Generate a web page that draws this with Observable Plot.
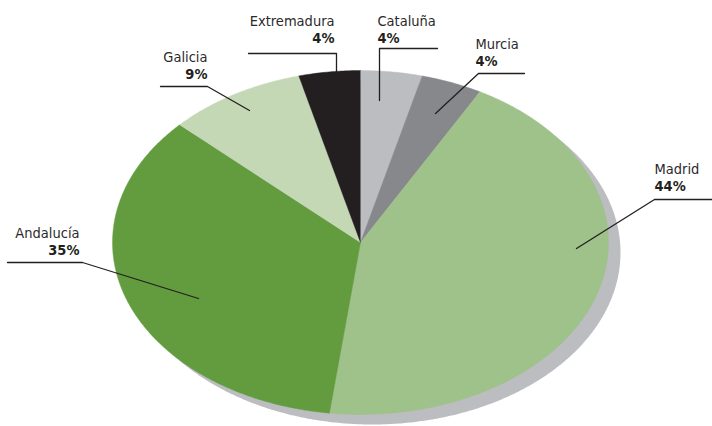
<!DOCTYPE html>
<html>
<head>
<meta charset="utf-8">
<script src="https://cdn.jsdelivr.net/npm/d3@7"></script>
<script src="https://cdn.jsdelivr.net/npm/@observablehq/plot@0.6"></script>
<style>
  html, body { margin: 0; padding: 0; background: #fff; }
  svg { display: block; }
</style>
</head>
<body>
<div id="chart"></div>
<script>
// ---- data ----
const regions = ["Cataluña", "Murcia", "Madrid", "Andalucía", "Galicia", "Extremadura"];
const shares  = [4, 4, 44, 35, 9, 4];
const colors  = ["#bcbdc0", "#87888b", "#9fc18a", "#629c3e", "#c4d8b6", "#231f20"];

// ---- layout (pixel positions of labels and leader lines) ----
const W = 712, H = 426;
const CX = 360, CY = 242, RX = 248, RY = 172;
const toX = px => (px - CX) / RX;
const toY = py => (CY - py) / RY;
const labelLayout = {
  "Extremadura": {anchor: "end",   x: 334, y1: 25,  y2: 42,  path: [[248, 53], [336, 53], [336, 74]]},
  "Cataluña":    {anchor: "start", x: 377, y1: 25,  y2: 42,  path: [[437, 48], [379, 48], [379, 100]]},
  "Murcia":      {anchor: "start", x: 475, y1: 48,  y2: 65,  path: [[524, 73], [478, 73], [435, 113]]},
  "Madrid":      {anchor: "start", x: 654, y1: 173, y2: 190, path: [[712, 199], [654, 199], [576, 248]]},
  "Andalucía":   {anchor: "end",   x: 79,  y1: 237, y2: 254, path: [[7, 262], [82, 262], [198, 298]]},
  "Galicia":     {anchor: "end",   x: 207, y1: 61,  y2: 78,  path: [[160, 86], [207, 86], [249, 110]]}
};

// ---- build slice polygons (elliptical pie, clockwise from 12 o'clock) ----
const total = d3.sum(shares);
const slices = [];
let acc = 0;
regions.forEach((name, i) => {
  const a0 = acc / total * 2 * Math.PI;
  acc += shares[i];
  const a1 = acc / total * 2 * Math.PI;
  slices.push({name, x: 0, y: 0});
  const n = Math.max(4, Math.ceil((a1 - a0) / (Math.PI / 360)));
  for (let k = 0; k <= n; k++) {
    const a = a0 + (a1 - a0) * k / n;
    slices.push({name, x: Math.sin(a), y: Math.cos(a)});
  }
});
const ellipse = d3.range(0, 721).map(k => {
  const a = k / 720 * 2 * Math.PI;
  return {x: Math.sin(a), y: Math.cos(a)};
});

const leaders = [];
const labels = [];
regions.forEach((name, i) => {
  const L = labelLayout[name];
  L.path.forEach(([px, py]) => leaders.push({name, x: toX(px), y: toY(py)}));
  labels.push({name, pct: shares[i] + "%", anchor: L.anchor, x: toX(L.x), y1: toY(L.y1), y2: toY(L.y2)});
});

const font = "'DejaVu Sans Condensed', 'DejaVu Sans', sans-serif";
const ink = "#231f20";

const textMarks = ["start", "end"].flatMap(anchor => {
  const d = labels.filter(l => l.anchor === anchor);
  return [
    Plot.text(d, {x: "x", y: "y1", text: "name", textAnchor: anchor, lineAnchor: "bottom",
      fontSize: 14.5, fill: "#2b2a2b", fontFamily: font}),
    Plot.text(d, {x: "x", y: "y2", text: "pct", textAnchor: anchor, lineAnchor: "bottom",
      fontSize: 14.5, fontWeight: "bold", fill: ink, fontFamily: font})
  ];
});

const chart = Plot.plot({
  width: W,
  height: H,
  margin: 0,
  style: {background: "#fff", fontFamily: font},
  x: {domain: [-1, 1], range: [CX - RX, CX + RX], axis: null},
  y: {domain: [-1, 1], range: [CY + RY, CY - RY], axis: null},
  color: {domain: regions, range: colors},
  marks: [
    Plot.line(ellipse, {x: "x", y: "y", fill: "#bcbdc1", stroke: "none", dx: 12, dy: 10}),
    Plot.line(slices, {x: "x", y: "y", z: "name", fill: "name", stroke: "name", strokeWidth: 0.4}),
    Plot.line(leaders, {x: "x", y: "y", z: "name", stroke: ink, strokeWidth: 1.3, fill: "none"}),
    ...textMarks
  ]
});
document.getElementById("chart").appendChild(chart);
</script>
</body>
</html>
